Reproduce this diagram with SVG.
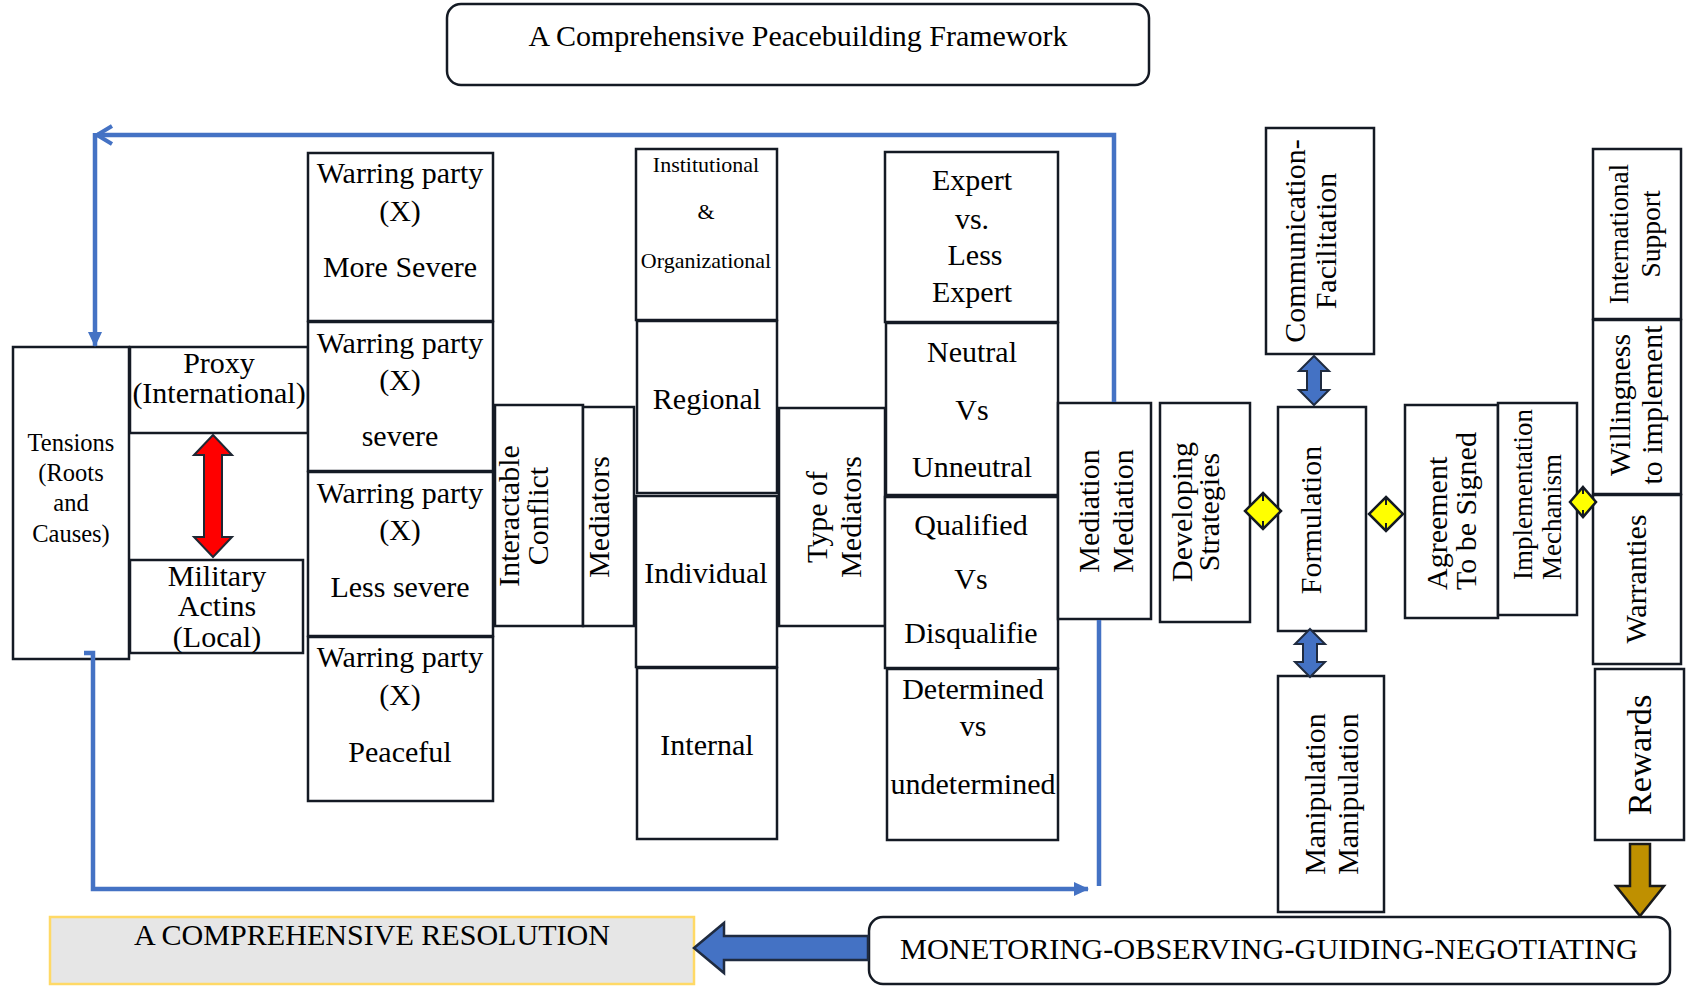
<svg xmlns="http://www.w3.org/2000/svg" width="1690" height="988" viewBox="0 0 1690 988">
<style>
.b{fill:#fff;stroke:#141a24;stroke-width:2.5}
.t{font-family:"Liberation Serif","Times New Roman",serif;font-size:30px;fill:#000;text-anchor:middle}
.s{font-family:"Liberation Serif","Times New Roman",serif;font-size:30px;fill:#000;text-anchor:start}
.ln{fill:none;stroke:#4472c4;stroke-width:4.5}
.dia{fill:#ffff00;stroke:#141a24;stroke-width:2.5}
.tick{stroke:#141a24;stroke-width:2}
</style>
<defs>
<marker id="fa" markerUnits="userSpaceOnUse" markerWidth="16" markerHeight="14" refX="14" refY="7" orient="auto">
<path d="M0,0 L15,7 L0,14 Z" fill="#4472c4"/>
</marker>
<marker id="oa" markerUnits="userSpaceOnUse" markerWidth="20" markerHeight="22" refX="17" refY="11" orient="auto">
<path d="M2,2 L17,11 L2,20" fill="none" stroke="#4472c4" stroke-width="4"/>
</marker>
</defs>
<rect width="1690" height="988" fill="#fff"/>

<g id="title">
<rect class="b" x="447" y="4" width="702" height="81" rx="14"/>
<text class="t" x="798" y="46">A Comprehensive Peacebuilding Framework</text>
</g>

<g id="tensions">
<rect class="b" x="13" y="347" width="116" height="312"/>
<text class="t" style="font-size:24.5px" x="71" y="451">Tensions</text>
<text class="t" style="font-size:24.5px" x="71" y="481">(Roots</text>
<text class="t" style="font-size:24.5px" x="71" y="511">and</text>
<text class="t" style="font-size:24.5px" x="71" y="542">Causes)</text>
</g>

<g id="proxy">
<rect class="b" x="130" y="347" width="178" height="86"/>
<text class="t" x="219" y="373">Proxy</text>
<text class="t" x="219" y="403">(International)</text>
</g>

<g id="military">
<rect class="b" x="130" y="560" width="173" height="93"/>
<text class="t" x="217" y="586">Military</text>
<text class="t" x="217" y="616">Actins</text>
<text class="t" x="217" y="647">(Local)</text>
</g>

<g id="warring1">
<rect class="b" x="308" y="153" width="185" height="168"/>
<text class="t" x="400" y="183">Warring party</text>
<text class="t" x="400" y="221">(X)</text>
<text class="t" x="400" y="277">More Severe</text>
</g>
<g id="warring2">
<rect class="b" x="308" y="322" width="185" height="149"/>
<text class="t" x="400" y="353">Warring party</text>
<text class="t" x="400" y="390">(X)</text>
<text class="t" x="400" y="446">severe</text>
</g>
<g id="warring3">
<rect class="b" x="308" y="472" width="185" height="164"/>
<text class="t" x="400" y="503">Warring party</text>
<text class="t" x="400" y="540">(X)</text>
<text class="t" x="400" y="597">Less severe</text>
</g>
<g id="warring4">
<rect class="b" x="308" y="637" width="185" height="164"/>
<text class="t" x="400" y="667">Warring party</text>
<text class="t" x="400" y="705">(X)</text>
<text class="t" x="400" y="762">Peaceful</text>
</g>

<g id="interactable">
<rect class="b" x="495" y="405" width="88" height="221"/>
<text class="t" transform="translate(519,516) rotate(-90)">Interactable</text>
<text class="t" transform="translate(548,516) rotate(-90)">Conflict</text>
</g>
<g id="mediators">
<rect class="b" x="583" y="407" width="51" height="219"/>
<text class="t" transform="translate(609,517) rotate(-90)">Mediators</text>
</g>

<g id="institutional">
<rect class="b" x="636" y="149" width="141" height="171"/>
<text class="t" style="font-size:22px" x="706" y="172">Institutional</text>
<text class="t" style="font-size:22px" x="706" y="219">&amp;</text>
<text class="t" style="font-size:22px" x="706" y="268">Organizational</text>
</g>
<g id="regional">
<rect class="b" x="637" y="321" width="140" height="172"/>
<text class="t" x="707" y="409">Regional</text>
</g>
<g id="individual">
<rect class="b" x="636" y="496" width="141" height="171"/>
<text class="t" x="706" y="583">Individual</text>
</g>
<g id="internal">
<rect class="b" x="637" y="668" width="140" height="171"/>
<text class="t" x="707" y="755">Internal</text>
</g>

<g id="typeofmediators">
<rect class="b" x="779" y="408" width="106" height="218"/>
<text class="t" transform="translate(827,517) rotate(-90)">Type of</text>
<text class="t" transform="translate(861,517) rotate(-90)">Mediators</text>
</g>

<g id="expert">
<rect class="b" x="885" y="152" width="173" height="170"/>
<text class="t" x="972" y="190">Expert</text>
<text class="t" x="972" y="229">vs.</text>
<text class="t" x="975" y="265">Less</text>
<text class="t" x="972" y="302">Expert</text>
</g>
<g id="neutral">
<rect class="b" x="886" y="323" width="172" height="172"/>
<text class="t" x="972" y="362">Neutral</text>
<text class="t" x="972" y="420">Vs</text>
<text class="t" x="972" y="477">Unneutral</text>
</g>
<g id="qualified">
<rect class="b" x="885" y="497" width="173" height="171"/>
<text class="t" x="971" y="535">Qualified</text>
<text class="t" x="971" y="589">Vs</text>
<text class="t" x="971" y="643">Disqualifie</text>
</g>
<g id="determined">
<rect class="b" x="887" y="669" width="171" height="171"/>
<text class="t" x="973" y="699">Determined</text>
<text class="t" x="973" y="736">vs</text>
<text class="t" x="973" y="794">undetermined</text>
</g>

<g id="mediation">
<rect class="b" x="1058" y="403" width="93" height="216"/>
<text class="t" transform="translate(1099,511) rotate(-90)">Mediation</text>
<text class="t" transform="translate(1133,511) rotate(-90)">Mediation</text>
</g>
<g id="developing">
<rect class="b" x="1160" y="403" width="90" height="219"/>
<text class="t" transform="translate(1192,512) rotate(-90)">Developing</text>
<text class="t" transform="translate(1219,512) rotate(-90)">Strategies</text>
</g>
<g id="communication">
<rect class="b" x="1266" y="128" width="108" height="226"/>
<text class="t" transform="translate(1305,241) rotate(-90)">Communication-</text>
<text class="t" transform="translate(1336,241) rotate(-90)">Facilitation</text>
</g>
<g id="formulation">
<rect class="b" x="1278" y="407" width="88" height="224"/>
<text class="t" transform="translate(1321,520) rotate(-90)">Formulation</text>
</g>
<g id="manipulation">
<rect class="b" x="1278" y="676" width="106" height="236"/>
<text class="t" transform="translate(1325,794) rotate(-90)">Manipulation</text>
<text class="t" transform="translate(1358,794) rotate(-90)">Manipulation</text>
</g>
<g id="agreement">
<rect class="b" x="1405" y="405" width="93" height="213"/>
<text class="s" transform="translate(1447,590) rotate(-90)">Agreement</text>
<text class="s" transform="translate(1476,590) rotate(-90)">To be Signed</text>
</g>
<g id="implementation">
<rect class="b" x="1498" y="403" width="79" height="212"/>
<text class="s" style="font-size:27px" transform="translate(1532,580) rotate(-90)">Implementation</text>
<text class="s" style="font-size:27px" transform="translate(1561,580) rotate(-90)">Mechanism</text>
</g>
<g id="international">
<rect class="b" x="1593" y="149" width="88" height="170"/>
<text class="t" style="font-size:27.5px" transform="translate(1628,234) rotate(-90)">International</text>
<text class="t" style="font-size:27.5px" transform="translate(1660,234) rotate(-90)">Support</text>
</g>
<g id="willingness">
<rect class="b" x="1593" y="320" width="88" height="174"/>
<text class="t" transform="translate(1630,405) rotate(-90)">Willingness</text>
<text class="t" transform="translate(1662,405) rotate(-90)">to implement</text>
</g>
<g id="warranties">
<rect class="b" x="1593" y="495" width="88" height="169"/>
<text class="t" transform="translate(1646,579) rotate(-90)">Warranties</text>
</g>
<g id="rewards">
<rect class="b" x="1595" y="669" width="89" height="171"/>
<text class="t" style="font-size:34.5px" transform="translate(1651,755) rotate(-90)">Rewards</text>
</g>

<g id="monitoring">
<rect class="b" x="869" y="917" width="801" height="67" rx="14"/>
<text class="t" x="1269" y="959" textLength="738" lengthAdjust="spacingAndGlyphs">MONETORING-OBSERVING-GUIDING-NEGOTIATING</text>
</g>
<g id="resolution">
<rect x="50" y="917" width="644" height="67" fill="#e6e6e6" stroke="#ffd966" stroke-width="2.5"/>
<text class="t" x="372" y="945" textLength="476" lengthAdjust="spacingAndGlyphs">A COMPREHENSIVE RESOLUTION</text>
</g>

<g id="connectors">
<path class="ln" d="M1114,402 V135 H97" marker-end="url(#oa)"/>
<path class="ln" d="M95,133 V346" marker-end="url(#fa)"/>
<path class="ln" d="M84,653 H93 V889 H1088" marker-end="url(#fa)"/>
<path class="ln" d="M1099,620 V886"/>
<polygon points="213,435 232,455 222,455 222,537 232,537 213,557 194,537 204,537 204,455 194,455" fill="#ff0000" stroke="#1f2733" stroke-width="2"/>
<polygon points="1314,356 1329,371 1321,371 1321,390 1329,390 1314,405 1299,390 1307,390 1307,371 1299,371" fill="#4472c4" stroke="#1f2b40" stroke-width="2"/>
<polygon points="1310,629 1325,644 1317,644 1317,662 1325,662 1310,677 1295,662 1303,662 1303,644 1295,644" fill="#4472c4" stroke="#1f2b40" stroke-width="2"/>
<polygon points="1630,844 1650,844 1650,886 1664,886 1640,916 1616,886 1630,886" fill="#bf9000" stroke="#1a1a1a" stroke-width="2.5"/>
<polygon points="694,948 724,923 724,936 868,936 868,960 724,960 724,973" fill="#4472c4" stroke="#1f2b40" stroke-width="2.5"/>
<polygon class="dia" points="1263,493 1281,511 1263,529 1245,511"/>
<line class="tick" x1="1263" y1="493" x2="1263" y2="501"/><line class="tick" x1="1263" y1="521" x2="1263" y2="529"/>
<polygon class="dia" points="1386,497 1403,514 1386,531 1369,514"/>
<line class="tick" x1="1386" y1="497" x2="1386" y2="505"/><line class="tick" x1="1386" y1="523" x2="1386" y2="531"/>
<polygon class="dia" points="1583,487 1596,502 1583,517 1570,502"/>
<line class="tick" x1="1583" y1="487" x2="1583" y2="494"/><line class="tick" x1="1583" y1="510" x2="1583" y2="517"/>
</g>
</svg>
